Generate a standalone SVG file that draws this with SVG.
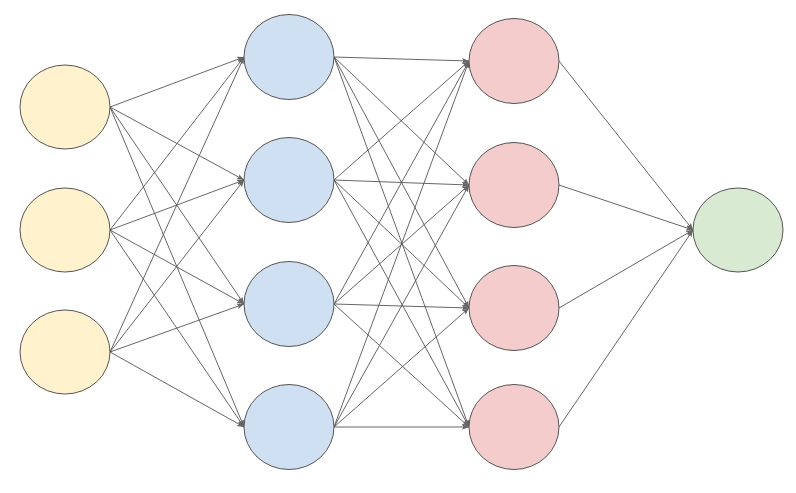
<svg xmlns="http://www.w3.org/2000/svg" width="796" height="493" viewBox="0 0 796 493">
<defs><marker id="a" viewBox="0 0 10 10" refX="10" refY="5" markerWidth="7" markerHeight="7" orient="auto" markerUnits="userSpaceOnUse"><path d="M0,1 L10,5 L0,9 L2,5 z" fill="#666"/></marker>
<style>.e{stroke:#555;stroke-width:1;fill-opacity:1}.c line{stroke:#555;stroke-width:0.9;marker-end:url(#a)}.i{fill:#fff2cc}.h{fill:#cfe0f2}.r{fill:#f4cccc}.o{fill:#d9ead3}</style></defs>
<rect width="796" height="493" fill="#fff"/>
<g class="c" id="connectors">
<line x1="110" y1="107" x2="244" y2="57"/><line x1="110" y1="107" x2="244" y2="180"/><line x1="110" y1="107" x2="244" y2="304"/><line x1="110" y1="107" x2="244" y2="427"/>
<line x1="110" y1="230" x2="244" y2="57"/><line x1="110" y1="230" x2="244" y2="180"/><line x1="110" y1="230" x2="244" y2="304"/><line x1="110" y1="230" x2="244" y2="427"/>
<line x1="110" y1="352" x2="244" y2="57"/><line x1="110" y1="352" x2="244" y2="180"/><line x1="110" y1="352" x2="244" y2="304"/><line x1="110" y1="352" x2="244" y2="427"/>
<line x1="334" y1="57" x2="469" y2="61"/><line x1="334" y1="57" x2="469" y2="185"/><line x1="334" y1="57" x2="469" y2="308"/><line x1="334" y1="57" x2="469" y2="427"/>
<line x1="334" y1="180" x2="469" y2="61"/><line x1="334" y1="180" x2="469" y2="185"/><line x1="334" y1="180" x2="469" y2="308"/><line x1="334" y1="180" x2="469" y2="427"/>
<line x1="334" y1="304" x2="469" y2="61"/><line x1="334" y1="304" x2="469" y2="185"/><line x1="334" y1="304" x2="469" y2="308"/><line x1="334" y1="304" x2="469" y2="427"/>
<line x1="334" y1="427" x2="469" y2="61"/><line x1="334" y1="427" x2="469" y2="185"/><line x1="334" y1="427" x2="469" y2="308"/><line x1="334" y1="427" x2="469" y2="427"/>
<line x1="559" y1="61" x2="693" y2="230"/><line x1="559" y1="185" x2="693" y2="230"/><line x1="559" y1="308" x2="693" y2="230"/><line x1="559" y1="427" x2="693" y2="230"/>
</g>
<g id="in1"><ellipse class="e i" cx="65" cy="107" rx="45" ry="42"/></g>
<g id="in2"><ellipse class="e i" cx="65" cy="230" rx="45" ry="42"/></g>
<g id="in3"><ellipse class="e i" cx="65" cy="352" rx="45" ry="42"/></g>
<g id="h1a"><ellipse class="e h" cx="289" cy="57" rx="45" ry="42.5"/></g>
<g id="h1b"><ellipse class="e h" cx="289" cy="180" rx="45" ry="42.5"/></g>
<g id="h1c"><ellipse class="e h" cx="289" cy="304" rx="45" ry="42.5"/></g>
<g id="h1d"><ellipse class="e h" cx="289" cy="427" rx="45" ry="42.5"/></g>
<g id="h2a"><ellipse class="e r" cx="514" cy="61" rx="45" ry="42.5"/></g>
<g id="h2b"><ellipse class="e r" cx="514" cy="185" rx="45" ry="42.5"/></g>
<g id="h2c"><ellipse class="e r" cx="514" cy="308" rx="45" ry="42.5"/></g>
<g id="h2d"><ellipse class="e r" cx="514" cy="427" rx="45" ry="42.5"/></g>
<g id="out"><ellipse class="e o" cx="738" cy="230" rx="45" ry="42"/></g>
</svg>
